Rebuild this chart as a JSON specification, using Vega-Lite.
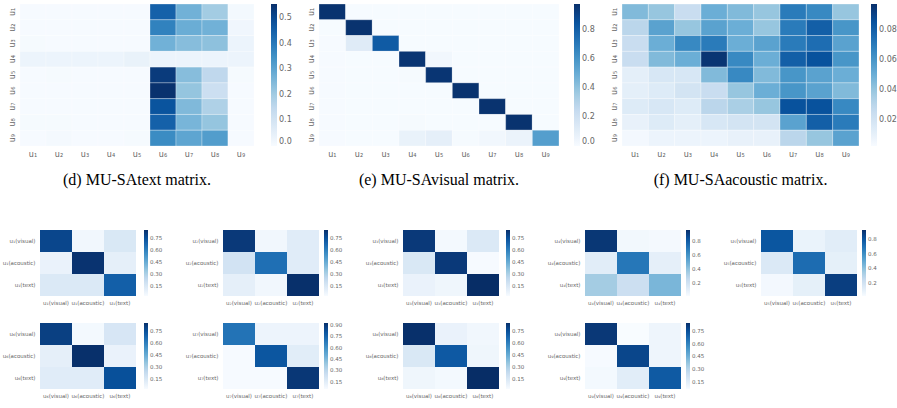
{
"$schema":"https://vega.github.io/schema/vega-lite/v6.json",
"background":"white",
"padding":{"left":2,"top":3,"right":0,"bottom":0},
"config":{"view":{"stroke":null},"axis":{"domain":false,"ticks":false,"grid":false,"labelColor":"#666","labelFont":"DejaVu Sans","labelFontSize":8,"title":null,"labelPadding":4,"minExtent":0},"legend":{"gradientStrokeWidth":0,"labelColor":"#666","labelFont":"DejaVu Sans","labelFontSize":8,"gradientThickness":6,"title":null},"title":{"font":"Liberation Serif","fontSize":16,"fontWeight":"normal","color":"#000"}},
"datasets":{
"d":[
{"r":"u₁","c":"u₁","v":0.004},{"r":"u₁","c":"u₂","v":0.004},{"r":"u₁","c":"u₃","v":0.004},{"r":"u₁","c":"u₄","v":0.004},{"r":"u₁","c":"u₅","v":0.004},{"r":"u₁","c":"u₆","v":0.45},{"r":"u₁","c":"u₇","v":0.27},{"r":"u₁","c":"u₈","v":0.2},{"r":"u₁","c":"u₉","v":0.01},
{"r":"u₂","c":"u₁","v":0.004},{"r":"u₂","c":"u₂","v":0.004},{"r":"u₂","c":"u₃","v":0.004},{"r":"u₂","c":"u₄","v":0.004},{"r":"u₂","c":"u₅","v":0.004},{"r":"u₂","c":"u₆","v":0.38},{"r":"u₂","c":"u₇","v":0.28},{"r":"u₂","c":"u₈","v":0.27},{"r":"u₂","c":"u₉","v":0.02},
{"r":"u₃","c":"u₁","v":0.005},{"r":"u₃","c":"u₂","v":0.004},{"r":"u₃","c":"u₃","v":0.004},{"r":"u₃","c":"u₄","v":0.004},{"r":"u₃","c":"u₅","v":0.004},{"r":"u₃","c":"u₆","v":0.27},{"r":"u₃","c":"u₇","v":0.24},{"r":"u₃","c":"u₈","v":0.23},{"r":"u₃","c":"u₉","v":0.03},
{"r":"u₄","c":"u₁","v":0.03},{"r":"u₄","c":"u₂","v":0.03},{"r":"u₄","c":"u₃","v":0.03},{"r":"u₄","c":"u₄","v":0.03},{"r":"u₄","c":"u₅","v":0.04},{"r":"u₄","c":"u₆","v":0.03},{"r":"u₄","c":"u₇","v":0.03},{"r":"u₄","c":"u₈","v":0.03},{"r":"u₄","c":"u₉","v":0.03},
{"r":"u₅","c":"u₁","v":0.004},{"r":"u₅","c":"u₂","v":0.006},{"r":"u₅","c":"u₃","v":0.004},{"r":"u₅","c":"u₄","v":0.004},{"r":"u₅","c":"u₅","v":0.004},{"r":"u₅","c":"u₆","v":0.53},{"r":"u₅","c":"u₇","v":0.24},{"r":"u₅","c":"u₈","v":0.15},{"r":"u₅","c":"u₉","v":0.005},
{"r":"u₆","c":"u₁","v":0.004},{"r":"u₆","c":"u₂","v":0.004},{"r":"u₆","c":"u₃","v":0.004},{"r":"u₆","c":"u₄","v":0.004},{"r":"u₆","c":"u₅","v":0.004},{"r":"u₆","c":"u₆","v":0.55},{"r":"u₆","c":"u₇","v":0.22},{"r":"u₆","c":"u₈","v":0.12},{"r":"u₆","c":"u₉","v":0.004},
{"r":"u₇","c":"u₁","v":0.004},{"r":"u₇","c":"u₂","v":0.004},{"r":"u₇","c":"u₃","v":0.004},{"r":"u₇","c":"u₄","v":0.004},{"r":"u₇","c":"u₅","v":0.004},{"r":"u₇","c":"u₆","v":0.48},{"r":"u₇","c":"u₇","v":0.25},{"r":"u₇","c":"u₈","v":0.18},{"r":"u₇","c":"u₉","v":0.004},
{"r":"u₈","c":"u₁","v":0.005},{"r":"u₈","c":"u₂","v":0.006},{"r":"u₈","c":"u₃","v":0.004},{"r":"u₈","c":"u₄","v":0.004},{"r":"u₈","c":"u₅","v":0.004},{"r":"u₈","c":"u₆","v":0.45},{"r":"u₈","c":"u₇","v":0.26},{"r":"u₈","c":"u₈","v":0.22},{"r":"u₈","c":"u₉","v":0.004},
{"r":"u₉","c":"u₁","v":0.004},{"r":"u₉","c":"u₂","v":0.008},{"r":"u₉","c":"u₃","v":0.004},{"r":"u₉","c":"u₄","v":0.004},{"r":"u₉","c":"u₅","v":0.006},{"r":"u₉","c":"u₆","v":0.36},{"r":"u₉","c":"u₇","v":0.3},{"r":"u₉","c":"u₈","v":0.32},{"r":"u₉","c":"u₉","v":0.004}
],
"e":[
{"r":"u₁","c":"u₁","v":0.97},{"r":"u₁","c":"u₂","v":0.003},{"r":"u₁","c":"u₃","v":0.003},{"r":"u₁","c":"u₄","v":0.003},{"r":"u₁","c":"u₅","v":0.003},{"r":"u₁","c":"u₆","v":0.003},{"r":"u₁","c":"u₇","v":0.003},{"r":"u₁","c":"u₈","v":0.003},{"r":"u₁","c":"u₉","v":0.003},
{"r":"u₂","c":"u₁","v":0.003},{"r":"u₂","c":"u₂","v":0.97},{"r":"u₂","c":"u₃","v":0.003},{"r":"u₂","c":"u₄","v":0.003},{"r":"u₂","c":"u₅","v":0.003},{"r":"u₂","c":"u₆","v":0.003},{"r":"u₂","c":"u₇","v":0.003},{"r":"u₂","c":"u₈","v":0.003},{"r":"u₂","c":"u₉","v":0.003},
{"r":"u₃","c":"u₁","v":0.005},{"r":"u₃","c":"u₂","v":0.12},{"r":"u₃","c":"u₃","v":0.82},{"r":"u₃","c":"u₄","v":0.003},{"r":"u₃","c":"u₅","v":0.003},{"r":"u₃","c":"u₆","v":0.003},{"r":"u₃","c":"u₇","v":0.003},{"r":"u₃","c":"u₈","v":0.003},{"r":"u₃","c":"u₉","v":0.003},
{"r":"u₄","c":"u₁","v":0.005},{"r":"u₄","c":"u₂","v":0.003},{"r":"u₄","c":"u₃","v":0.003},{"r":"u₄","c":"u₄","v":0.96},{"r":"u₄","c":"u₅","v":0.03},{"r":"u₄","c":"u₆","v":0.003},{"r":"u₄","c":"u₇","v":0.003},{"r":"u₄","c":"u₈","v":0.003},{"r":"u₄","c":"u₉","v":0.003},
{"r":"u₅","c":"u₁","v":0.005},{"r":"u₅","c":"u₂","v":0.003},{"r":"u₅","c":"u₃","v":0.003},{"r":"u₅","c":"u₄","v":0.01},{"r":"u₅","c":"u₅","v":0.96},{"r":"u₅","c":"u₆","v":0.003},{"r":"u₅","c":"u₇","v":0.003},{"r":"u₅","c":"u₈","v":0.003},{"r":"u₅","c":"u₉","v":0.003},
{"r":"u₆","c":"u₁","v":0.005},{"r":"u₆","c":"u₂","v":0.003},{"r":"u₆","c":"u₃","v":0.003},{"r":"u₆","c":"u₄","v":0.003},{"r":"u₆","c":"u₅","v":0.003},{"r":"u₆","c":"u₆","v":0.97},{"r":"u₆","c":"u₇","v":0.003},{"r":"u₆","c":"u₈","v":0.003},{"r":"u₆","c":"u₉","v":0.003},
{"r":"u₇","c":"u₁","v":0.005},{"r":"u₇","c":"u₂","v":0.003},{"r":"u₇","c":"u₃","v":0.003},{"r":"u₇","c":"u₄","v":0.003},{"r":"u₇","c":"u₅","v":0.003},{"r":"u₇","c":"u₆","v":0.003},{"r":"u₇","c":"u₇","v":0.97},{"r":"u₇","c":"u₈","v":0.003},{"r":"u₇","c":"u₉","v":0.003},
{"r":"u₈","c":"u₁","v":0.005},{"r":"u₈","c":"u₂","v":0.003},{"r":"u₈","c":"u₃","v":0.003},{"r":"u₈","c":"u₄","v":0.01},{"r":"u₈","c":"u₅","v":0.003},{"r":"u₈","c":"u₆","v":0.003},{"r":"u₈","c":"u₇","v":0.003},{"r":"u₈","c":"u₈","v":0.97},{"r":"u₈","c":"u₉","v":0.003},
{"r":"u₉","c":"u₁","v":0.005},{"r":"u₉","c":"u₂","v":0.003},{"r":"u₉","c":"u₃","v":0.003},{"r":"u₉","c":"u₄","v":0.07},{"r":"u₉","c":"u₅","v":0.09},{"r":"u₉","c":"u₆","v":0.01},{"r":"u₉","c":"u₇","v":0.03},{"r":"u₉","c":"u₈","v":0.06},{"r":"u₉","c":"u₉","v":0.56}
],
"f":[
{"r":"u₁","c":"u₁","v":0.045},{"r":"u₁","c":"u₂","v":0.04},{"r":"u₁","c":"u₃","v":0.025},{"r":"u₁","c":"u₄","v":0.05},{"r":"u₁","c":"u₅","v":0.045},{"r":"u₁","c":"u₆","v":0.04},{"r":"u₁","c":"u₇","v":0.07},{"r":"u₁","c":"u₈","v":0.065},{"r":"u₁","c":"u₉","v":0.04},
{"r":"u₂","c":"u₁","v":0.03},{"r":"u₂","c":"u₂","v":0.055},{"r":"u₂","c":"u₃","v":0.04},{"r":"u₂","c":"u₄","v":0.055},{"r":"u₂","c":"u₅","v":0.05},{"r":"u₂","c":"u₆","v":0.04},{"r":"u₂","c":"u₇","v":0.07},{"r":"u₂","c":"u₈","v":0.08},{"r":"u₂","c":"u₉","v":0.06},
{"r":"u₃","c":"u₁","v":0.025},{"r":"u₃","c":"u₂","v":0.05},{"r":"u₃","c":"u₃","v":0.065},{"r":"u₃","c":"u₄","v":0.07},{"r":"u₃","c":"u₅","v":0.05},{"r":"u₃","c":"u₆","v":0.055},{"r":"u₃","c":"u₇","v":0.07},{"r":"u₃","c":"u₈","v":0.075},{"r":"u₃","c":"u₉","v":0.055},
{"r":"u₄","c":"u₁","v":0.025},{"r":"u₄","c":"u₂","v":0.045},{"r":"u₄","c":"u₃","v":0.05},{"r":"u₄","c":"u₄","v":0.095},{"r":"u₄","c":"u₅","v":0.065},{"r":"u₄","c":"u₆","v":0.05},{"r":"u₄","c":"u₇","v":0.08},{"r":"u₄","c":"u₈","v":0.085},{"r":"u₄","c":"u₉","v":0.06},
{"r":"u₅","c":"u₁","v":0.012},{"r":"u₅","c":"u₂","v":0.018},{"r":"u₅","c":"u₃","v":0.018},{"r":"u₅","c":"u₄","v":0.045},{"r":"u₅","c":"u₅","v":0.065},{"r":"u₅","c":"u₆","v":0.045},{"r":"u₅","c":"u₇","v":0.06},{"r":"u₅","c":"u₈","v":0.055},{"r":"u₅","c":"u₉","v":0.05},
{"r":"u₆","c":"u₁","v":0.012},{"r":"u₆","c":"u₂","v":0.015},{"r":"u₆","c":"u₃","v":0.02},{"r":"u₆","c":"u₄","v":0.025},{"r":"u₆","c":"u₅","v":0.04},{"r":"u₆","c":"u₆","v":0.05},{"r":"u₆","c":"u₇","v":0.06},{"r":"u₆","c":"u₈","v":0.055},{"r":"u₆","c":"u₉","v":0.045},
{"r":"u₇","c":"u₁","v":0.015},{"r":"u₇","c":"u₂","v":0.018},{"r":"u₇","c":"u₃","v":0.015},{"r":"u₇","c":"u₄","v":0.03},{"r":"u₇","c":"u₅","v":0.035},{"r":"u₇","c":"u₆","v":0.04},{"r":"u₇","c":"u₇","v":0.085},{"r":"u₇","c":"u₈","v":0.085},{"r":"u₇","c":"u₉","v":0.065},
{"r":"u₈","c":"u₁","v":0.01},{"r":"u₈","c":"u₂","v":0.015},{"r":"u₈","c":"u₃","v":0.012},{"r":"u₈","c":"u₄","v":0.018},{"r":"u₈","c":"u₅","v":0.02},{"r":"u₈","c":"u₆","v":0.02},{"r":"u₈","c":"u₇","v":0.055},{"r":"u₈","c":"u₈","v":0.08},{"r":"u₈","c":"u₉","v":0.07},
{"r":"u₉","c":"u₁","v":0.005},{"r":"u₉","c":"u₂","v":0.008},{"r":"u₉","c":"u₃","v":0.008},{"r":"u₉","c":"u₄","v":0.008},{"r":"u₉","c":"u₅","v":0.01},{"r":"u₉","c":"u₆","v":0.01},{"r":"u₉","c":"u₇","v":0.03},{"r":"u₉","c":"u₈","v":0.04},{"r":"u₉","c":"u₉","v":0.055}
],
"s":[
{"p":"u1","r":"visual","c":"visual","v":0.78},{"p":"u1","r":"visual","c":"acoustic","v":0.05},{"p":"u1","r":"visual","c":"text","v":0.15},{"p":"u1","r":"acoustic","c":"visual","v":0.08},{"p":"u1","r":"acoustic","c":"acoustic","v":0.84},{"p":"u1","r":"acoustic","c":"text","v":0.1},{"p":"u1","r":"text","c":"visual","v":0.14},{"p":"u1","r":"text","c":"acoustic","v":0.14},{"p":"u1","r":"text","c":"text","v":0.7},
{"p":"u2","r":"visual","c":"visual","v":0.82},{"p":"u2","r":"visual","c":"acoustic","v":0.05},{"p":"u2","r":"visual","c":"text","v":0.12},{"p":"u2","r":"acoustic","c":"visual","v":0.18},{"p":"u2","r":"acoustic","c":"acoustic","v":0.65},{"p":"u2","r":"acoustic","c":"text","v":0.12},{"p":"u2","r":"text","c":"visual","v":0.1},{"p":"u2","r":"text","c":"acoustic","v":0.05},{"p":"u2","r":"text","c":"text","v":0.85},
{"p":"u3","r":"visual","c":"visual","v":0.82},{"p":"u3","r":"visual","c":"acoustic","v":0.04},{"p":"u3","r":"visual","c":"text","v":0.14},{"p":"u3","r":"acoustic","c":"visual","v":0.15},{"p":"u3","r":"acoustic","c":"acoustic","v":0.82},{"p":"u3","r":"acoustic","c":"text","v":0.03},{"p":"u3","r":"text","c":"visual","v":0.08},{"p":"u3","r":"text","c":"acoustic","v":0.06},{"p":"u3","r":"text","c":"text","v":0.86},
{"p":"u4","r":"visual","c":"visual","v":0.93},{"p":"u4","r":"visual","c":"acoustic","v":0.04},{"p":"u4","r":"visual","c":"text","v":0.03},{"p":"u4","r":"acoustic","c":"visual","v":0.12},{"p":"u4","r":"acoustic","c":"acoustic","v":0.7},{"p":"u4","r":"acoustic","c":"text","v":0.1},{"p":"u4","r":"text","c":"visual","v":0.35},{"p":"u4","r":"text","c":"acoustic","v":0.22},{"p":"u4","r":"text","c":"text","v":0.45},
{"p":"u5","r":"visual","c":"visual","v":0.8},{"p":"u5","r":"visual","c":"acoustic","v":0.08},{"p":"u5","r":"visual","c":"text","v":0.12},{"p":"u5","r":"acoustic","c":"visual","v":0.15},{"p":"u5","r":"acoustic","c":"acoustic","v":0.72},{"p":"u5","r":"acoustic","c":"text","v":0.1},{"p":"u5","r":"text","c":"visual","v":0.04},{"p":"u5","r":"text","c":"acoustic","v":0.1},{"p":"u5","r":"text","c":"text","v":0.88},
{"p":"u6","r":"visual","c":"visual","v":0.8},{"p":"u6","r":"visual","c":"acoustic","v":0.04},{"p":"u6","r":"visual","c":"text","v":0.16},{"p":"u6","r":"acoustic","c":"visual","v":0.1},{"p":"u6","r":"acoustic","c":"acoustic","v":0.85},{"p":"u6","r":"acoustic","c":"text","v":0.08},{"p":"u6","r":"text","c":"visual","v":0.12},{"p":"u6","r":"text","c":"acoustic","v":0.12},{"p":"u6","r":"text","c":"text","v":0.75},
{"p":"u7","r":"visual","c":"visual","v":0.7},{"p":"u7","r":"visual","c":"acoustic","v":0.1},{"p":"u7","r":"visual","c":"text","v":0.1},{"p":"u7","r":"acoustic","c":"visual","v":0.06},{"p":"u7","r":"acoustic","c":"acoustic","v":0.8},{"p":"u7","r":"acoustic","c":"text","v":0.15},{"p":"u7","r":"text","c":"visual","v":0.06},{"p":"u7","r":"text","c":"acoustic","v":0.06},{"p":"u7","r":"text","c":"text","v":0.9},
{"p":"u8","r":"visual","c":"visual","v":0.85},{"p":"u8","r":"visual","c":"acoustic","v":0.08},{"p":"u8","r":"visual","c":"text","v":0.05},{"p":"u8","r":"acoustic","c":"visual","v":0.15},{"p":"u8","r":"acoustic","c":"acoustic","v":0.72},{"p":"u8","r":"acoustic","c":"text","v":0.06},{"p":"u8","r":"text","c":"visual","v":0.06},{"p":"u8","r":"text","c":"acoustic","v":0.04},{"p":"u8","r":"text","c":"text","v":0.86},
{"p":"u9","r":"visual","c":"visual","v":0.82},{"p":"u9","r":"visual","c":"acoustic","v":0.06},{"p":"u9","r":"visual","c":"text","v":0.1},{"p":"u9","r":"acoustic","c":"visual","v":0.07},{"p":"u9","r":"acoustic","c":"acoustic","v":0.78},{"p":"u9","r":"acoustic","c":"text","v":0.1},{"p":"u9","r":"text","c":"visual","v":0.08},{"p":"u9","r":"text","c":"acoustic","v":0.15},{"p":"u9","r":"text","c":"text","v":0.72}
]
},
"vconcat":[
{"hconcat":[
{"width":234,"height":142,"data":{"name":"d"},"mark":{"type":"rect","stroke":"white","strokeWidth":0.3},
"encoding":{"x":{"field":"c","type":"nominal","sort":["u₁","u₂","u₃","u₄","u₅","u₆","u₇","u₈","u₉"],"axis":{"labelAngle":0}},
"y":{"field":"r","type":"nominal","sort":["u₁","u₂","u₃","u₄","u₅","u₆","u₇","u₈","u₉"],"axis":{"labelAngle":-90,"labelAlign":"center","labelBaseline":"bottom"}},
"color":{"field":"v","type":"quantitative","scale":{"domain":[0,0.069375,0.13875,0.208125,0.2775,0.346875,0.41625,0.485625,0.555],"range":["#f7fbff","#deebf7","#c6dbef","#9ecae1","#6baed6","#4292c6","#2171b5","#08519c","#08306b"]},"legend":{"values":[0,0.1,0.2,0.3,0.4,0.5],"format":".1f","gradientLength":142,"offset":17}}},
"title":{"text":"(d) MU-SAtext matrix.","orient":"bottom","offset":14,"anchor":"middle"}},
{"width":240,"height":142,"data":{"name":"e"},"mark":{"type":"rect","stroke":"white","strokeWidth":0.3},
"encoding":{"x":{"field":"c","type":"nominal","sort":["u₁","u₂","u₃","u₄","u₅","u₆","u₇","u₈","u₉"],"axis":{"labelAngle":0}},
"y":{"field":"r","type":"nominal","sort":["u₁","u₂","u₃","u₄","u₅","u₆","u₇","u₈","u₉"],"axis":{"labelAngle":-90,"labelAlign":"center","labelBaseline":"bottom"}},
"color":{"field":"v","type":"quantitative","scale":{"domain":[0,0.1225,0.245,0.3675,0.49,0.6125,0.735,0.8575,0.98],"range":["#f7fbff","#deebf7","#c6dbef","#9ecae1","#6baed6","#4292c6","#2171b5","#08519c","#08306b"]},"legend":{"values":[0,0.2,0.4,0.6,0.8],"format":".1f","gradientLength":142,"offset":15}}},
"title":{"text":"(e) MU-SAvisual matrix.","orient":"bottom","offset":14,"anchor":"middle"}},
{"width":237,"height":142,"data":{"name":"f"},"mark":{"type":"rect","stroke":"white","strokeWidth":0.3},
"encoding":{"x":{"field":"c","type":"nominal","sort":["u₁","u₂","u₃","u₄","u₅","u₆","u₇","u₈","u₉"],"axis":{"labelAngle":0}},
"y":{"field":"r","type":"nominal","sort":["u₁","u₂","u₃","u₄","u₅","u₆","u₇","u₈","u₉"],"axis":{"labelAngle":-90,"labelAlign":"center","labelBaseline":"bottom"}},
"color":{"field":"v","type":"quantitative","scale":{"domain":[0.003,0.01475,0.0265,0.03825,0.05,0.06175,0.0735,0.08525,0.097],"range":["#f7fbff","#deebf7","#c6dbef","#9ecae1","#6baed6","#4292c6","#2171b5","#08519c","#08306b"]},"legend":{"values":[0.02,0.04,0.06,0.08],"format":".2f","gradientLength":142,"offset":12}}},
"title":{"text":"(f) MU-SAacoustic matrix.","orient":"bottom","offset":14,"anchor":"middle"}}
],"spacing":15,"resolve":{"scale":{"color":"independent"},"legend":{"color":"independent"}}},
{"vconcat":[
{"hconcat":[
{"width":96,"height":66,"data":{"name":"s"},"transform":[{"filter":"datum.p==='u1'"}],"mark":"rect","encoding":{"x":{"field":"c","type":"nominal","sort":["visual","acoustic","text"],"axis":{"labelAngle":0,"labelFontSize":5.5,"labelExpr":"'u₁(' + datum.label + ')'"}},"y":{"field":"r","type":"nominal","sort":["visual","acoustic","text"],"axis":{"labelFontSize":5.5,"labelPadding":5,"labelExpr":"'u₁(' + datum.label + ')'"}},"color":{"field":"v","type":"quantitative","scale":{"domain":[0.025,0.128125,0.23125,0.334375,0.4375,0.540625,0.64375,0.746875,0.85],"range":["#f7fbff","#deebf7","#c6dbef","#9ecae1","#6baed6","#4292c6","#2171b5","#08519c","#08306b"]},"legend":{"values":[0.15,0.3,0.45,0.6,0.75],"format":".2f","gradientLength":66,"gradientThickness":4,"labelFontSize":5.5,"offset":8}}}},
{"width":96,"height":66,"data":{"name":"s"},"transform":[{"filter":"datum.p==='u2'"}],"mark":"rect","encoding":{"x":{"field":"c","type":"nominal","sort":["visual","acoustic","text"],"axis":{"labelAngle":0,"labelFontSize":5.5,"labelExpr":"'u₂(' + datum.label + ')'"}},"y":{"field":"r","type":"nominal","sort":["visual","acoustic","text"],"axis":{"labelFontSize":5.5,"labelPadding":5,"labelExpr":"'u₂(' + datum.label + ')'"}},"color":{"field":"v","type":"quantitative","scale":{"domain":[0.025,0.128125,0.23125,0.334375,0.4375,0.540625,0.64375,0.746875,0.85],"range":["#f7fbff","#deebf7","#c6dbef","#9ecae1","#6baed6","#4292c6","#2171b5","#08519c","#08306b"]},"legend":{"values":[0.15,0.3,0.45,0.6,0.75],"format":".2f","gradientLength":66,"gradientThickness":4,"labelFontSize":5.5,"offset":5}}}},
{"width":96,"height":66,"data":{"name":"s"},"transform":[{"filter":"datum.p==='u3'"}],"mark":"rect","encoding":{"x":{"field":"c","type":"nominal","sort":["visual","acoustic","text"],"axis":{"labelAngle":0,"labelFontSize":5.5,"labelExpr":"'u₃(' + datum.label + ')'"}},"y":{"field":"r","type":"nominal","sort":["visual","acoustic","text"],"axis":{"labelFontSize":5.5,"labelPadding":5,"labelExpr":"'u₃(' + datum.label + ')'"}},"color":{"field":"v","type":"quantitative","scale":{"domain":[0.025,0.128125,0.23125,0.334375,0.4375,0.540625,0.64375,0.746875,0.85],"range":["#f7fbff","#deebf7","#c6dbef","#9ecae1","#6baed6","#4292c6","#2171b5","#08519c","#08306b"]},"legend":{"values":[0.15,0.3,0.45,0.6,0.75],"format":".2f","gradientLength":66,"gradientThickness":4,"labelFontSize":5.5,"offset":7}}}},
{"width":96,"height":66,"data":{"name":"s"},"transform":[{"filter":"datum.p==='u4'"}],"mark":"rect","encoding":{"x":{"field":"c","type":"nominal","sort":["visual","acoustic","text"],"axis":{"labelAngle":0,"labelFontSize":5.5,"labelExpr":"'u₄(' + datum.label + ')'"}},"y":{"field":"r","type":"nominal","sort":["visual","acoustic","text"],"axis":{"labelFontSize":5.5,"labelPadding":5,"labelExpr":"'u₄(' + datum.label + ')'"}},"color":{"field":"v","type":"quantitative","scale":{"domain":[0.015,0.1325,0.25,0.3675,0.485,0.6025,0.72,0.8375,0.955],"range":["#f7fbff","#deebf7","#c6dbef","#9ecae1","#6baed6","#4292c6","#2171b5","#08519c","#08306b"]},"legend":{"values":[0.2,0.4,0.6,0.8],"format":".1f","gradientLength":66,"gradientThickness":4,"labelFontSize":5.5,"offset":5}}}},
{"width":96,"height":66,"data":{"name":"s"},"transform":[{"filter":"datum.p==='u5'"}],"mark":"rect","encoding":{"x":{"field":"c","type":"nominal","sort":["visual","acoustic","text"],"axis":{"labelAngle":0,"labelFontSize":5.5,"labelExpr":"'u₅(' + datum.label + ')'"}},"y":{"field":"r","type":"nominal","sort":["visual","acoustic","text"],"axis":{"labelFontSize":5.5,"labelPadding":5,"labelExpr":"'u₅(' + datum.label + ')'"}},"color":{"field":"v","type":"quantitative","scale":{"domain":[0.02,0.13375,0.2475,0.36125,0.475,0.58875,0.7025,0.81625,0.93],"range":["#f7fbff","#deebf7","#c6dbef","#9ecae1","#6baed6","#4292c6","#2171b5","#08519c","#08306b"]},"legend":{"values":[0.2,0.4,0.6,0.8],"format":".1f","gradientLength":66,"gradientThickness":4,"labelFontSize":5.5,"offset":5}}}}
],"spacing":22,"resolve":{"scale":{"color":"independent"},"legend":{"color":"independent"}}},
{"hconcat":[
{"width":96,"height":66,"data":{"name":"s"},"transform":[{"filter":"datum.p==='u6'"}],"mark":"rect","encoding":{"x":{"field":"c","type":"nominal","sort":["visual","acoustic","text"],"axis":{"labelAngle":0,"labelFontSize":5.5,"labelExpr":"'u₆(' + datum.label + ')'"}},"y":{"field":"r","type":"nominal","sort":["visual","acoustic","text"],"axis":{"labelFontSize":5.5,"labelPadding":5,"labelExpr":"'u₆(' + datum.label + ')'"}},"color":{"field":"v","type":"quantitative","scale":{"domain":[0.025,0.128125,0.23125,0.334375,0.4375,0.540625,0.64375,0.746875,0.85],"range":["#f7fbff","#deebf7","#c6dbef","#9ecae1","#6baed6","#4292c6","#2171b5","#08519c","#08306b"]},"legend":{"values":[0.15,0.3,0.45,0.6,0.75],"format":".2f","gradientLength":66,"gradientThickness":4,"labelFontSize":5.5,"offset":8}}}},
{"width":96,"height":66,"data":{"name":"s"},"transform":[{"filter":"datum.p==='u7'"}],"mark":"rect","encoding":{"x":{"field":"c","type":"nominal","sort":["visual","acoustic","text"],"axis":{"labelAngle":0,"labelFontSize":5.5,"labelExpr":"'u₇(' + datum.label + ')'"}},"y":{"field":"r","type":"nominal","sort":["visual","acoustic","text"],"axis":{"labelFontSize":5.5,"labelPadding":5,"labelExpr":"'u₇(' + datum.label + ')'"}},"color":{"field":"v","type":"quantitative","scale":{"domain":[0.055,0.16375,0.2725,0.38125,0.49,0.59875,0.7075,0.81625,0.925],"range":["#f7fbff","#deebf7","#c6dbef","#9ecae1","#6baed6","#4292c6","#2171b5","#08519c","#08306b"]},"legend":{"values":[0.15,0.3,0.45,0.6,0.75,0.9],"format":".2f","gradientLength":66,"gradientThickness":4,"labelFontSize":5.5,"offset":5}}}},
{"width":96,"height":66,"data":{"name":"s"},"transform":[{"filter":"datum.p==='u8'"}],"mark":"rect","encoding":{"x":{"field":"c","type":"nominal","sort":["visual","acoustic","text"],"axis":{"labelAngle":0,"labelFontSize":5.5,"labelExpr":"'u₈(' + datum.label + ')'"}},"y":{"field":"r","type":"nominal","sort":["visual","acoustic","text"],"axis":{"labelFontSize":5.5,"labelPadding":5,"labelExpr":"'u₈(' + datum.label + ')'"}},"color":{"field":"v","type":"quantitative","scale":{"domain":[0.025,0.128125,0.23125,0.334375,0.4375,0.540625,0.64375,0.746875,0.85],"range":["#f7fbff","#deebf7","#c6dbef","#9ecae1","#6baed6","#4292c6","#2171b5","#08519c","#08306b"]},"legend":{"values":[0.15,0.3,0.45,0.6,0.75],"format":".2f","gradientLength":66,"gradientThickness":4,"labelFontSize":5.5,"offset":7}}}},
{"width":96,"height":66,"data":{"name":"s"},"transform":[{"filter":"datum.p==='u9'"}],"mark":"rect","encoding":{"x":{"field":"c","type":"nominal","sort":["visual","acoustic","text"],"axis":{"labelAngle":0,"labelFontSize":5.5,"labelExpr":"'u₉(' + datum.label + ')'"}},"y":{"field":"r","type":"nominal","sort":["visual","acoustic","text"],"axis":{"labelFontSize":5.5,"labelPadding":5,"labelExpr":"'u₉(' + datum.label + ')'"}},"color":{"field":"v","type":"quantitative","scale":{"domain":[0.065,0.1625,0.26,0.3575,0.455,0.5525,0.65,0.7475,0.845],"range":["#f7fbff","#deebf7","#c6dbef","#9ecae1","#6baed6","#4292c6","#2171b5","#08519c","#08306b"]},"legend":{"values":[0.15,0.3,0.45,0.6,0.75],"format":".2f","gradientLength":66,"gradientThickness":4,"labelFontSize":5.5,"offset":5}}}}
],"spacing":22,"resolve":{"scale":{"color":"independent"},"legend":{"color":"independent"}}}
],"spacing":17}
],
"center":true,
"spacing":42
}
